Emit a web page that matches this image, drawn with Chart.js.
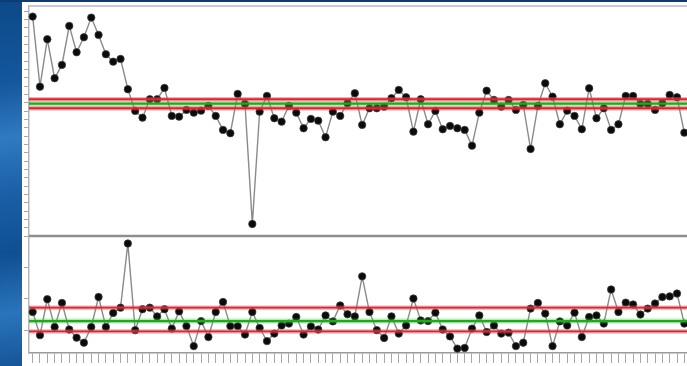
<!DOCTYPE html>
<html>
<head>
<meta charset="utf-8">
<script src="https://cdn.jsdelivr.net/npm/chart.js@4"></script>
<style>
  html, body { margin: 0; padding: 0; width: 687px; height: 366px; overflow: hidden; }
  body {
    position: relative;
    background: linear-gradient(172deg, #0c4988 0%, #14579d 18%, #2f7ac2 30%, #1a60a8 42%, #0f4f92 55%, #2a74bd 68%, #114f91 82%, #0b4383 100%);
  }
  #topband { position: absolute; left: 0; top: 0; width: 687px; height: 2px; background: #0b3c73; }
  #panel { position: absolute; left: 22px; top: 2px; width: 667px; height: 364px; background: #ffffff; }
  canvas { display: block; }
</style>
</head>
<body>
<div id="topband"></div>
<div id="panel"><canvas id="spc" width="667" height="364"></canvas></div>
<script>
// Sample numbers along the x axis
const SAMPLES = Array.from({ length: 90 }, (_, i) => String(i + 1));

// Individual measurements (upper panel)
const INDIVIDUALS = [
  26.33, 17.92, 23.61, 18.93, 20.53, 25.21, 22.05, 23.85, 26.21, 24.13,
  21.81, 20.92, 21.25, 17.61, 15.01, 14.20, 16.41, 16.41, 17.77, 14.41,
  14.32, 15.13, 14.80, 15.04, 15.61, 14.41, 12.73, 12.33, 17.05, 15.85,
   1.44, 14.92, 16.81, 14.13, 13.72, 15.61, 14.80, 12.93, 14.05, 13.84,
  11.85, 14.92, 14.41, 15.93, 17.13, 13.33, 15.33, 15.33, 15.52, 16.53,
  17.53, 16.65, 12.52, 16.41, 13.41, 15.01, 12.81, 13.21, 12.93, 12.73,
  10.84, 14.80, 17.44, 16.33, 15.52, 16.33, 15.13, 15.73, 10.44, 15.61,
  18.33, 16.72, 13.41, 15.04, 14.41, 12.81, 17.73, 14.13, 15.33, 12.73,
  13.41, 16.81, 16.81, 15.85, 15.85, 15.13, 15.93, 16.93, 16.65, 12.40
];

// Moving range (lower panel)
const MOVING_RANGE = [
  1.31, 0.57, 1.72, 0.83, 1.60, 0.75, 0.49, 0.33, 0.83, 1.79,
  0.83, 1.28, 1.45, 3.50, 0.73, 1.40, 1.45, 1.17, 1.40, 0.78,
  1.33, 0.86, 0.22, 1.02, 0.51, 1.31, 1.63, 0.86, 0.86, 0.59,
  1.31, 0.80, 0.38, 0.62, 0.88, 0.94, 1.15, 0.59, 0.85, 0.75,
  1.20, 1.01, 1.52, 1.24, 1.17, 2.45, 1.31, 0.73, 0.48, 1.17,
  0.62, 0.88, 1.74, 1.04, 1.02, 1.29, 0.75, 0.53, 0.14, 0.16,
  0.78, 1.20, 0.67, 0.88, 0.62, 0.65, 0.22, 0.33, 1.42, 1.60,
  1.26, 0.22, 1.01, 0.88, 1.29, 0.51, 1.15, 1.20, 0.94, 2.03,
  1.31, 1.61, 1.55, 1.23, 1.42, 1.58, 1.79, 1.81, 1.90, 0.94
];

// Control limits and centre lines
const I_UCL = 16.41, I_CL = 15.88, I_LCL = 15.33;
const MR_UCL = 1.45, MR_CL = 1.02, MR_LCL = 0.69;

// Tick values on the moving-range axis
const MR_TICKS = [0.73, 1.73, 2.73, 3.73];

const RED = '#e4222c', RED_GLOW = 'rgba(245, 70, 95, 0.45)';
const GREEN = '#1cab1f', GREEN_GLOW = 'rgba(60, 190, 60, 0.35)';

// Horizontal limit lines plus the panel frame
const limitLines = {
  id: 'limitLines',
  afterDatasetsDraw(chart) {
    const { ctx, chartArea } = chart;
    const { left, right } = chartArea;
    const hline = (y, color, width) => {
      ctx.strokeStyle = color;
      ctx.lineWidth = width;
      ctx.beginPath();
      ctx.moveTo(left, y);
      ctx.lineTo(right, y);
      ctx.stroke();
    };
    const limit = (scale, value, color, glow, width) => {
      const y = scale.getPixelForValue(value);
      hline(y, glow, width + 2.6);
      hline(y, color, width);
    };
    ctx.save();
    ctx.lineCap = 'butt';
    const yI = chart.scales.y, yMR = chart.scales.y2;
    limit(yI, I_UCL, RED, RED_GLOW, 1.8);
    limit(yI, I_LCL, RED, RED_GLOW, 1.8);
    limit(yI, I_CL, GREEN, GREEN_GLOW, 2.4);
    limit(yMR, MR_UCL, RED, RED_GLOW, 1.8);
    limit(yMR, MR_LCL, RED, RED_GLOW, 1.8);
    limit(yMR, MR_CL, GREEN, GREEN_GLOW, 2.4);
    // frame: top edge and divider between the two panels
    hline(chartArea.top, '#c9c9c9', 2);
    hline(Math.min(yI.bottom, yMR.bottom), '#8e8e8e', 2.6);
    ctx.restore();
  }
};

const pointStyle = {
  showLine: true,
  borderColor: '#8a8a8a',
  borderWidth: 1.4,
  tension: 0,
  pointRadius: 3.7,
  pointBorderWidth: 1,
  pointBackgroundColor: '#0b0b0b',
  pointBorderColor: 'rgba(60, 60, 60, 0.75)'
};

const tickGrid = { drawOnChartArea: false, drawTicks: true, tickLength: 5, color: '#a6a6a6', lineWidth: 1 };

new Chart(document.getElementById('spc'), {
  type: 'line',
  data: {
    labels: SAMPLES,
    datasets: [
      Object.assign({ label: 'Individuals', data: INDIVIDUALS, yAxisID: 'y' }, pointStyle),
      Object.assign({ label: 'Moving Range', data: MOVING_RANGE, yAxisID: 'y2' }, pointStyle)
    ]
  },
  options: {
    responsive: false,
    animation: false,
    layout: { autoPadding: false, padding: { left: 2, right: 1, top: 4, bottom: 3 } },
    plugins: { legend: { display: false }, tooltip: { enabled: false } },
    scales: {
      x: {
        type: 'category',
        offset: true,
        ticks: { display: false, autoSkip: false },
        grid: { drawOnChartArea: false, drawTicks: true, tickLength: 10, color: '#a8a8a8', lineWidth: 1 },
        border: { display: true, color: '#9a9a9a', width: 1.5 }
      },
      // the left-hand stack is laid out bottom-up, so the lower panel's axis comes first
      y2: {
        position: 'left',
        stack: 'spc',
        stackWeight: 117,
        min: 0,
        max: 3.74,
        afterBuildTicks(scale) { scale.ticks = MR_TICKS.map(v => ({ value: v })); },
        ticks: { display: false },
        grid: tickGrid,
        border: { display: true, color: '#b5b5b5', width: 1.5 }
      },
      y: {
        position: 'left',
        stack: 'spc',
        stackWeight: 230,
        min: 0,
        max: 27.6,
        ticks: { display: false, stepSize: 1, includeBounds: false },
        grid: tickGrid,
        border: { display: true, color: '#b5b5b5', width: 1.5 }
      }
    }
  },
  plugins: [limitLines]
});
</script>
</body>
</html>
